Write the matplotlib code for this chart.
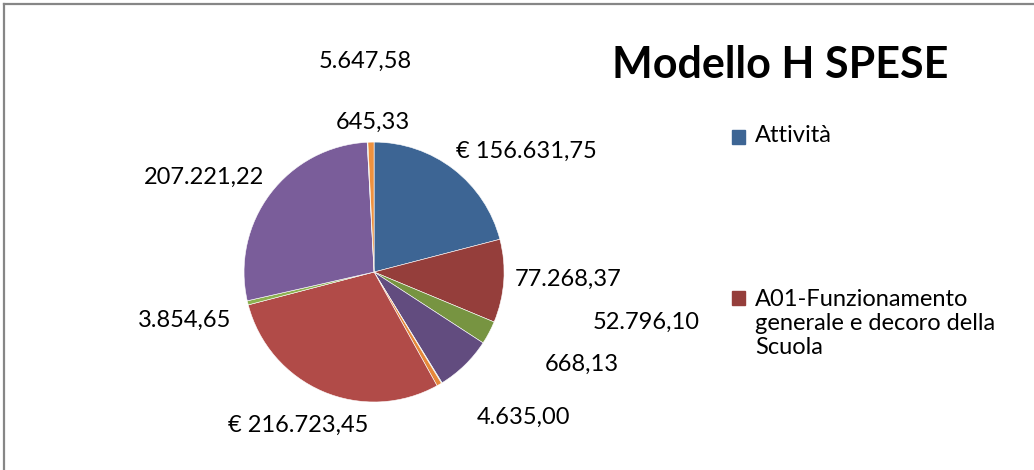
import matplotlib.pyplot as plt
from matplotlib.lines import Line2D
from matplotlib.patches import Rectangle

plt.rcParams['font.family'] = ['Lato', 'DejaVu Sans']

# slices, clockwise from twelve o'clock
values = [156631.75, 77268.37, 21700.00, 52796.10, 668.13, 4635.00,
          216723.45, 3854.65, 207221.22, 645.33, 5647.58]
labels = ['€ 156.631,75', '77.268,37', '', '52.796,10', '668,13', '4.635,00',
          '€ 216.723,45', '3.854,65', '207.221,22', '645,33', '5.647,58']
colors = ['#3d6594', '#953e3b', '#779441', '#624c7f', '#4aa3bd', '#e5883a',
          '#b14b48', '#8cb150', '#7a5d9a', '#6fb8cf', '#ee913f']
legend_names = ['Attività', 'A01-Funzionamento\ngenerale e decoro della\nScuola']

# label positions, in pie radii from the centre
label_pos = [(1.17, 0.93), (1.49, -0.06), None, (2.09, -0.39), (1.60, -0.71),
             (1.15, -1.12), (-0.58, -1.18), (-1.46, -0.37), (-1.31, 0.73),
             (-0.01, 1.15), (-0.07, 1.62)]

fig = plt.figure(figsize=(10.34, 4.7), dpi=100)
ax = fig.add_axes([0.236, 0.1447, 0.2515, 0.553])
wedges, _ = ax.pie(values, colors=colors, startangle=90, counterclock=False,
                   wedgeprops=dict(edgecolor='white', linewidth=0.4))
ax.set_xlim(-1, 1)
ax.set_ylim(-1, 1)
ax.set_aspect('auto')
ax.axis('off')

for lab, pos in zip(labels, label_pos):
    if pos is None or not lab:
        continue
    ax.text(pos[0], pos[1], lab, ha='center', va='center', fontsize=17,
            clip_on=False)

fig.text(0.755, 0.862, 'Modello H SPESE', ha='center', va='center',
         fontsize=31, fontweight='bold')

# legend (only the first two entries fit)
key_y = [0.7085, 0.366]
text_top = [0.733, 0.386]
for i in range(2):
    fig.patches.append(Rectangle((0.708, key_y[i] - 0.014), 0.0126, 0.028,
                                 transform=fig.transFigure, color=colors[i]))
    fig.text(0.730, text_top[i], legend_names[i], ha='left', va='top',
             fontsize=17, linespacing=1.18)

# chart frame
fig.lines.append(Line2D([0.004, 1.0], [0.991, 0.991], transform=fig.transFigure,
                        color='#868686', linewidth=1.6))
fig.lines.append(Line2D([0.004, 0.004], [0.0, 0.991], transform=fig.transFigure,
                        color='#868686', linewidth=1.6))

fig.savefig('out.png', dpi=100)
